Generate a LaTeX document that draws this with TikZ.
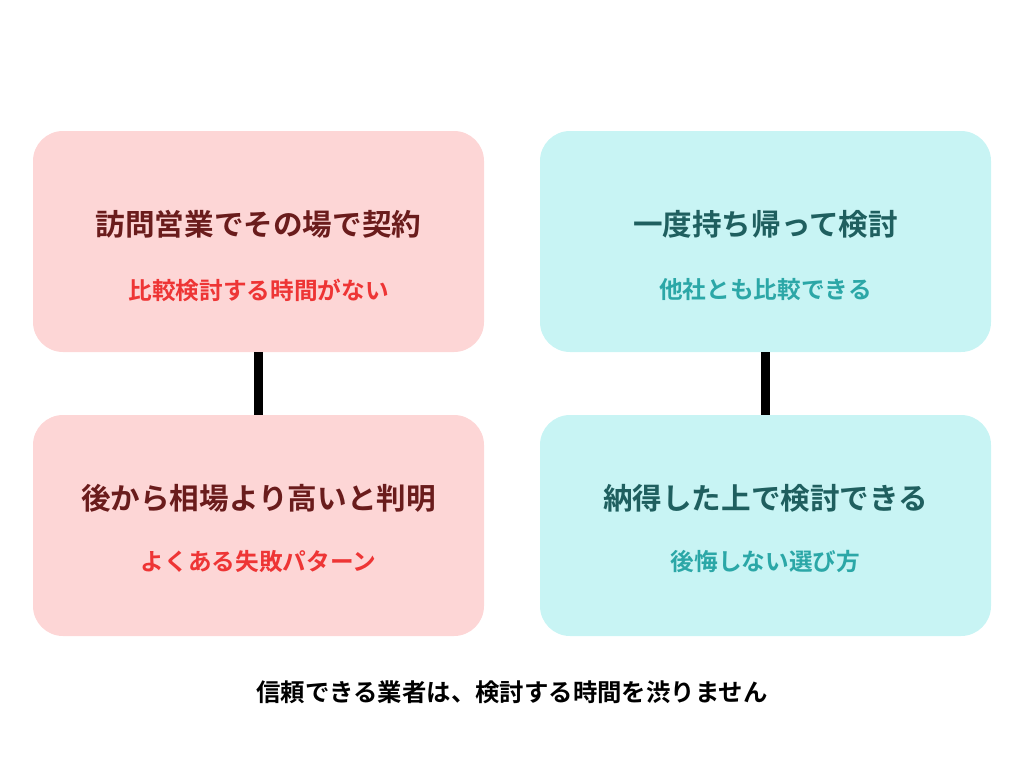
\documentclass[tikz,border=0pt]{standalone}
\usepackage{fontspec}
\newfontfamily\jpb{Noto Sans CJK JP Bold}
\definecolor{pinkfill}{HTML}{FDD6D6}
\definecolor{cyanfill}{HTML}{C8F4F4}
\definecolor{redtitle}{HTML}{6A1C1C}
\definecolor{redsub}{HTML}{EE3535}
\definecolor{tealtitle}{HTML}{1F5F5F}
\definecolor{tealsub}{HTML}{2BA7A7}
\tikzset{
  box/.style={rounded corners=22.5pt, minimum width=338.25pt, minimum height=165.75pt, inner sep=0pt},
  pinkbox/.style={box, fill=pinkfill},
  cyanbox/.style={box, fill=cyanfill},
  ttl/.style={font=\jpb\fontsize{22.2pt}{25pt}\selectfont},
  sub/.style={font=\jpb\fontsize{17.75pt}{20pt}\selectfont},
  foottext/.style={font=\jpb\fontsize{18.3pt}{21pt}\selectfont},
  link/.style={line width=6.75pt, black}
}
\begin{document}
\begin{tikzpicture}[x=0.75pt,y=-0.75pt]
\useasboundingbox (0,0) rectangle (1024,768);
\node[pinkbox] (a) at (258.5,241.5) {};
\node[cyanbox] (b) at (765.5,241.5) {};
\node[pinkbox] (c) at (258.5,525.5) {};
\node[cyanbox] (d) at (765.5,525.5) {};
\draw[link] (a.south) -- (c.north);
\draw[link] (b.south) -- (d.north);
\node[ttl, text=redtitle] (at) at (258.5,224) {訪問営業でその場で契約};
\node[sub, text=redsub] (as) at (258.5,290) {比較検討する時間がない};
\node[ttl, text=tealtitle] (bt) at (765.5,224) {一度持ち帰って検討};
\node[sub, text=tealsub] (bs) at (765.5,290) {他社とも比較できる};
\node[ttl, text=redtitle] (ct) at (258.5,498) {後から相場より高いと判明};
\node[sub, text=redsub] (cs) at (258.5,562) {よくある失敗パターン};
\node[ttl, text=tealtitle] (dt) at (765.5,498) {納得した上で検討できる};
\node[sub, text=tealsub] (ds) at (765.5,562) {後悔しない選び方};
\node[foottext, text=black] (foot) at (512,692) {信頼できる業者は、検討する時間を渋りません};
\end{tikzpicture}
\end{document}
